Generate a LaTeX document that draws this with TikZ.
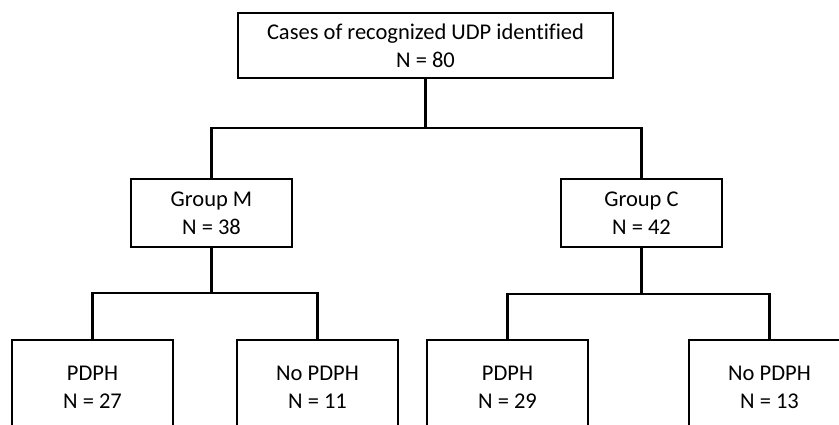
\documentclass[tikz,border=0pt]{standalone}
\usepackage{fontspec}
\setmainfont[Ligatures=NoCommon]{Carlito}
\usetikzlibrary{positioning,calc}
\tikzset{
  block/.style={draw=black, line width=2.2pt, fill=white, align=center, inner sep=0pt,
    minimum width=161pt, minimum height=68pt, font=\fontsize{22.5}{28}\selectfont},
  link/.style={draw=black, line width=2.2pt}
}
\begin{document}
\begin{tikzpicture}[x=1pt, y=-1pt]
    \useasboundingbox (0,0) rectangle (839,425);

    \node[block, minimum width=375pt, minimum height=65pt] (all) at (425.5,45.5) {Cases of recognized UDP identified\\N = 80};
    \node[block] (gm) at (211.5,213) {Group M\\N = 38};
    \node[block] (gc) at (641.5,213) {Group C\\N = 42};

    \node[block, minimum height=94pt] (pm) at (92.5,387) {PDPH\\N = 27};
    \node[block, minimum height=94pt] (npm) at (317.5,387) {No PDPH\\N = 11};
    \node[block, minimum height=94pt] (pc) at (507.5,387) {PDPH\\N = 29};
    \node[block, minimum height=94pt] (npc) at (769.5,387) {No PDPH\\N = 13};

    \coordinate (j0) at (all.south |- 0,128);
    \coordinate (j1) at (gm.south |- 0,293);
    \coordinate (j2) at (gc.south |- 0,294);

    \draw[link] (all.south) -- (j0);
    \draw[link] (gm.north) |- (j0) -| (gc.north);
    \draw[link] (gm.south) -- (j1);
    \draw[link] (pm.north) |- (j1) -| (npm.north);
    \draw[link] (gc.south) -- (j2);
    \draw[link] (pc.north) |- (j2) -| (npc.north);
\end{tikzpicture}
\end{document}
